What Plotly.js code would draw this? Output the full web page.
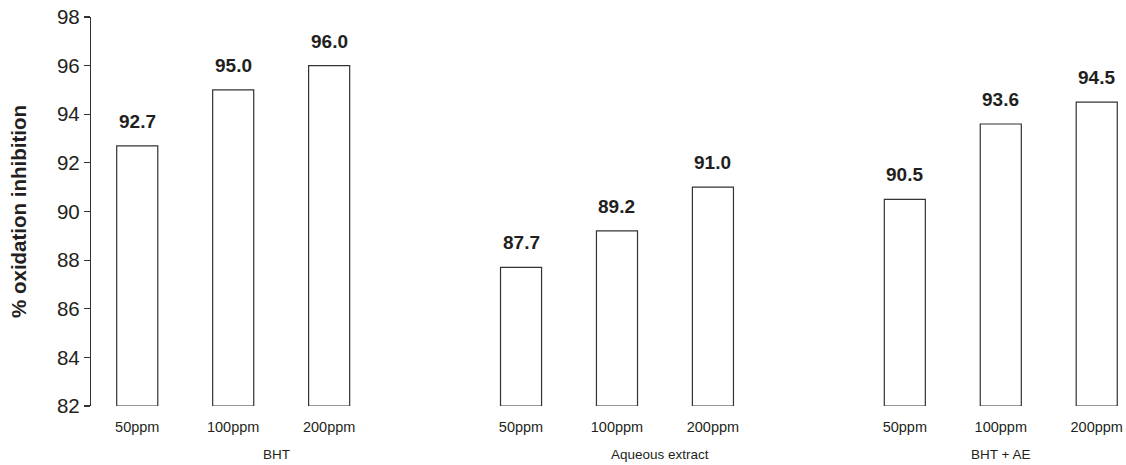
<!DOCTYPE html>
<html>
<head>
<meta charset="utf-8">
<script src="https://cdn.plot.ly/plotly-3.0.1.min.js"></script>
<style>
html,body{margin:0;padding:0;background:#fff;}
#chart{width:1126px;height:465px;}
</style>
</head>
<body>
<div id="chart"></div>
<script>
// Data
var positions = [0, 1, 2, 4, 5, 6, 8, 9, 10];
var doseLabels = ["50ppm", "100ppm", "200ppm", "50ppm", "100ppm", "200ppm", "50ppm", "100ppm", "200ppm"];
var values = [92.7, 95.0, 96.0, 87.7, 89.2, 91.0, 90.5, 93.6, 94.5];
var groupNames = ["BHT", "Aqueous extract", "BHT + AE"];
var groupPositions = [1.45, 5.45, 9.0];
var axisBase = 82;

var ink = "#231f20";
var fontFam = "Liberation Sans, Arial, Helvetica, sans-serif";

var trace = {
  type: "bar",
  x: positions,
  y: values.map(function (v) { return v - axisBase; }),
  base: axisBase,
  width: 0.428,
  marker: { color: "#ffffff", line: { color: "#333333", width: 1.2 } },
  hoverinfo: "skip",
  showlegend: false
};

var annotations = [];
values.forEach(function (v, i) {
  annotations.push({
    x: positions[i], y: v, xref: "x", yref: "y",
    text: "<b>" + v.toFixed(1) + "</b>",
    showarrow: false, yanchor: "bottom", xanchor: "center",
    yshift: 12,
    font: { family: fontFam, size: 19, color: ink }
  });
});
groupNames.forEach(function (g, i) {
  annotations.push({
    x: groupPositions[i], y: -0.146, xref: "x", yref: "paper",
    text: g, showarrow: false, xanchor: "center", yanchor: "bottom",
    borderpad: 0,
    font: { family: fontFam, size: 13.5, color: ink }
  });
});

var layout = {
  width: 1126, height: 465,
  margin: { l: 91, r: 5, t: 17, b: 59 },
  paper_bgcolor: "#ffffff",
  plot_bgcolor: "#ffffff",
  font: { family: fontFam, color: ink },
  xaxis: {
    range: [-0.482, 10.253],
    tickmode: "array",
    tickvals: positions,
    ticktext: doseLabels,
    showline: false, showgrid: false, zeroline: false,
    ticks: "",
    ticklabelstandoff: 10,
    tickfont: { family: fontFam, size: 14.5, color: ink }
  },
  yaxis: {
    range: [82, 98],
    tick0: 82, dtick: 2,
    showline: true, linecolor: "#333333", linewidth: 1.2,
    ticks: "outside", ticklen: 6, tickcolor: "#333333", tickwidth: 1.2,
    showgrid: false, zeroline: false,
    tickfont: { family: fontFam, size: 20.5, color: ink },
    title: {
      text: "<b>% oxidation inhibition</b>",
      font: { family: fontFam, size: 20.5, color: ink },
      standoff: 24
    }
  },
  annotations: annotations
};

Plotly.newPlot("chart", [trace], layout, { displayModeBar: false, staticPlot: true });
</script>
</body>
</html>
